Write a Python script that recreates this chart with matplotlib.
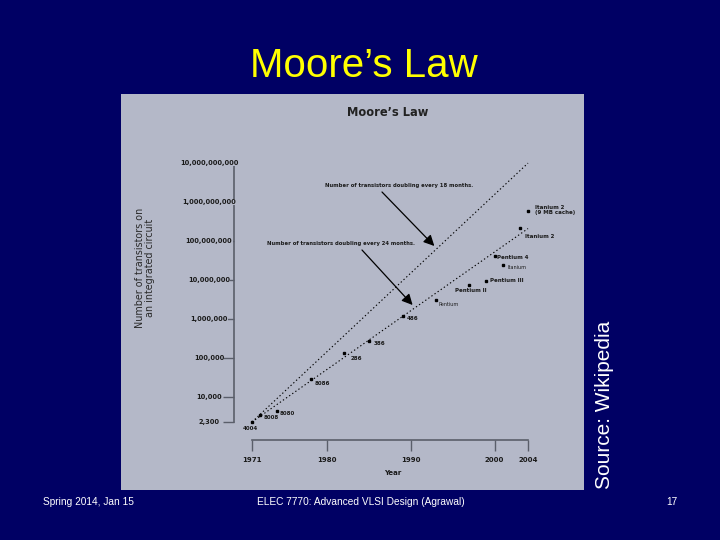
import numpy as np
import matplotlib
matplotlib.use('Agg')
import matplotlib.pyplot as plt
from matplotlib.ticker import NullLocator
from matplotlib.transforms import blended_transform_factory

# processors: year introduced, transistor count, label
chips = ['4004', '8008', '8080', '8086', '286', '386', '486', 'Pentium',
         'Pentium II', 'Pentium III', 'Pentium 4', 'Itanium', 'Itanium 2',
         'Itanium 2\n(9 MB cache)']
years = [1971, 1972, 1974, 1978, 1982, 1985, 1989, 1993,
         1997, 1999, 2000, 2001, 2003, 2004]
counts = [2300, 3500, 4500, 29000, 134000, 275000, 1200000, 3100000,
          7500000, 9500000, 42000000, 25000000, 220000000, 592000000]

# trend lines (end points)
trend_years = [1971, 2004]
trend_18mo = [2300, 1.0e10]
trend_24mo = [2300, 2.1e8]

ytick_vals = [2300, 1e4, 1e5, 1e6, 1e7, 1e8, 1e9, 1e10]
ytick_labels = ['2,300', '10,000', '100,000', '1,000,000', '10,000,000',
                '100,000,000', '1,000,000,000', '10,000,000,000']
xtick_vals = [1971, 1980, 1990, 2000, 2004]

W, H = 720, 540
NAVY = '#000064'
PANEL = '#b4b8c8'
INK = '#1a1a1a'
AXIS = '#5a5e6a'


def fpx(x, y):
    # slide pixel (from top-left) -> figure fraction
    return (x / W, 1 - y / H)


fig = plt.figure(figsize=(7.2, 5.4), dpi=100, facecolor=NAVY)

# slide texts
fig.text(*fpx(364, 66), 'Moore\u2019s Law', color='#ffff00', fontsize=29,
         family='Liberation Sans', ha='center', va='center')
fig.text(*fpx(43, 502), 'Spring 2014, Jan 15', color='white', fontsize=7.3,
         family='Liberation Sans', ha='left', va='center')
fig.text(*fpx(361, 502), 'ELEC 7770: Advanced VLSI Design (Agrawal)',
         color='white', fontsize=7.3, family='Liberation Sans',
         ha='center', va='center')
fig.text(*fpx(672, 502), '17', color='white', fontsize=7.3,
         family='Liberation Sans', ha='center', va='center')
fig.text(*fpx(605, 489), 'Source: Wikipedia', color='white', fontsize=15,
         family='Liberation Sans', rotation=90, ha='center', va='bottom')

# chart panel, pixel mapping of the embedded picture
pl, pr, pt, pb = 121, 584, 94, 490
px_per_year = 8.364
px_per_dec = 39.0
x0_px, y0_px = 252, 422          # 1971, 2300


def year_at(px):
    return 1971 + (px - x0_px) / px_per_year


def count_at(py):
    return 10 ** (np.log10(2300) + (y0_px - py) / px_per_dec)


ax = fig.add_axes([pl / W, 1 - pb / H, (pr - pl) / W, (pb - pt) / H])
ax.set_facecolor(PANEL)
ax.set_yscale('log')
ax.set_xlim(year_at(pl), year_at(pr))
ax.set_ylim(count_at(pb), count_at(pt))

for s in ['top', 'right']:
    ax.spines[s].set_visible(False)
ax.spines['left'].set_position(('data', year_at(234)))
ax.spines['left'].set_bounds(2300, 1e10)
ax.spines['bottom'].set_position(('data', count_at(440)))
ax.spines['bottom'].set_bounds(1971, 2004)
for s in ['left', 'bottom']:
    ax.spines[s].set_color(AXIS)
    ax.spines[s].set_linewidth(1.2)

ax.yaxis.set_minor_locator(NullLocator())
ax.set_yticks(ytick_vals)
ax.set_yticklabels([])
ax.set_xticks(xtick_vals)
ax.set_xticklabels([str(y) for y in xtick_vals], fontsize=5,
                   fontweight='bold', color=INK)
ax.tick_params(axis='y', length=8, width=1, color=AXIS)
ax.tick_params(axis='x', length=8, width=1, color=AXIS, pad=4)
ax.xaxis.get_major_ticks()[1].tick1line.set_color('#a0a4b4')

# y tick labels, centred in a column left of the axis (drawn over the ticks)
ytr = blended_transform_factory(fig.transFigure, ax.transData)
for v, lab in zip(ytick_vals, ytick_labels):
    ax.text(209 / W, v, lab, transform=ytr, fontsize=4.8, fontweight='bold',
            color=INK, ha='center', va='center', zorder=5,
            bbox=dict(boxstyle='square,pad=0.05', fc=PANEL, ec='none'))

# trend lines and chips
ax.plot(trend_years, trend_18mo, ls=(0, (1.2, 2.2)), color='black', lw=0.8)
ax.plot(trend_years, trend_24mo, ls=(0, (1.2, 2.2)), color='black', lw=0.8)
ax.plot(years, counts, 's', color='black', markersize=1.8)

# label offsets (points) and styles
offsets = {
    '4004': (-1, -3, 'center', 'top'),
    '8008': (2, -2, 'left', 'center'),
    '8080': (2, -2, 'left', 'center'),
    '8086': (3, -3, 'left', 'center'),
    '286': (5, -4, 'left', 'center'),
    '386': (3, -2, 'left', 'center'),
    '486': (3, -2, 'left', 'center'),
    'Pentium': (2, -3, 'left', 'center'),
    'Pentium II': (1, -2, 'center', 'top'),
    'Pentium III': (3, 0, 'left', 'center'),
    'Pentium 4': (2, -1, 'left', 'center'),
    'Itanium': (3, -2, 'left', 'center'),
    'Itanium 2': (4, -6, 'left', 'center'),
    'Itanium 2\n(9 MB cache)': (5, 1, 'left', 'center'),
}
for name, yr, n in zip(chips, years, counts):
    dx, dy, ha, va = offsets[name]
    small = name in ('Pentium', 'Itanium')
    ax.annotate(name, (yr, n), xytext=(dx, dy), textcoords='offset points',
                ha=ha, va=va, fontsize=3.5 if small else 4.0,
                fontweight='normal' if small else 'bold', color=INK,
                linespacing=1.0)

# arrows with captions
ax.annotate('', xy=(1992.8, 7.5e7), xytext=fpx(382, 192),
            textcoords='figure fraction',
            arrowprops=dict(arrowstyle='-|>', color='black', lw=0.9,
                            mutation_scale=16, shrinkA=0, shrinkB=0))
ax.annotate('', xy=(1990.2, 2.3e6), xytext=fpx(362, 250),
            textcoords='figure fraction',
            arrowprops=dict(arrowstyle='-|>', color='black', lw=0.9,
                            mutation_scale=16, shrinkA=0, shrinkB=0))
fig.text(*fpx(399, 186), 'Number of transistors doubling every 18 months.',
         fontsize=3.8, fontweight='bold', color=INK, ha='center', va='center')
fig.text(*fpx(341, 243), 'Number of transistors doubling every 24 months.',
         fontsize=3.8, fontweight='bold', color=INK, ha='center', va='center')

# chart title, axis titles
fig.text(*fpx(388, 113), 'Moore\u2019s Law', fontsize=8.3, fontweight='bold',
         color='#222222', ha='center', va='center')
fig.text(*fpx(145, 268), 'Number of transistors on\nan integrated circuit',
         fontsize=6.9, color='#2a2a2a', rotation=90, ha='center',
         va='center', linespacing=1.0)
fig.text(*fpx(393, 473), 'Year', fontsize=5, fontweight='bold', color=INK,
         ha='center', va='center')

plt.savefig('out.png', dpi=100, facecolor=NAVY)
plt.close()
